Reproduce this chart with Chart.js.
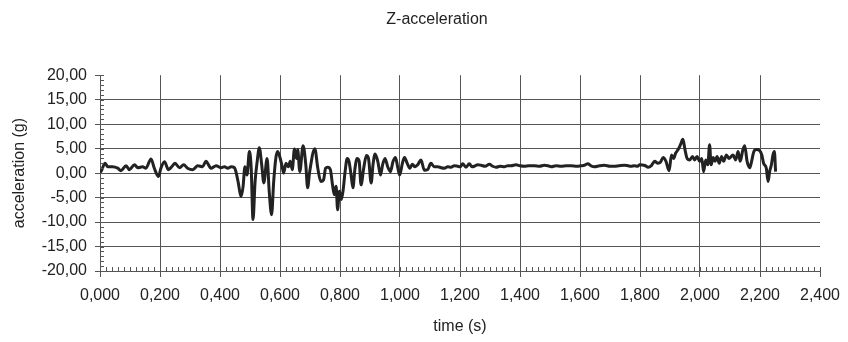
<!DOCTYPE html>
<html lang="en">
<head>
    <meta charset="UTF-8" />
    <title>Z-acceleration</title>
    <script src="https://cdn.jsdelivr.net/npm/chart.js"></script>
    <style>
        body { margin: 0; background: #fff; }
        .chart-box { width: 848px; height: 342px; }
    </style>
</head>
<body>
<div class="chart-box">
    <canvas id="accelChart"></canvas>
</div>

<script>
    // sample times (s)
    const times = [
        0.000, 0.003, 0.017, 0.026, 0.042, 0.059, 0.070, 0.087, 0.098, 0.115,
        0.126, 0.142, 0.153, 0.170, 0.181, 0.195, 0.203, 0.215, 0.228, 0.242,
        0.250, 0.265, 0.279, 0.292, 0.309, 0.326, 0.342, 0.353, 0.370, 0.387,
        0.404, 0.415, 0.426, 0.437, 0.448, 0.453, 0.461, 0.470, 0.477, 0.483,
        0.490, 0.498, 0.504, 0.510, 0.517, 0.524, 0.531, 0.539, 0.546, 0.557,
        0.564, 0.572, 0.579, 0.586, 0.592, 0.599, 0.606, 0.612, 0.620, 0.628,
        0.634, 0.641, 0.648, 0.655, 0.659, 0.666, 0.677, 0.686, 0.692, 0.699,
        0.716, 0.726, 0.736, 0.745, 0.752, 0.759, 0.768, 0.775, 0.781, 0.787,
        0.792, 0.798, 0.804, 0.810, 0.817, 0.824, 0.830, 0.837, 0.843, 0.850,
        0.857, 0.864, 0.870, 0.879, 0.888, 0.895, 0.904, 0.910, 0.917, 0.926,
        0.935, 0.942, 0.950, 0.959, 0.968, 0.977, 0.985, 0.992, 0.999, 1.008,
        1.015, 1.024, 1.033, 1.041, 1.050, 1.059, 1.070, 1.081, 1.092, 1.103,
        1.114, 1.126, 1.137, 1.148, 1.159, 1.170, 1.181, 1.192, 1.201, 1.209,
        1.220, 1.231, 1.240, 1.248, 1.259, 1.270, 1.284, 1.298, 1.309, 1.320,
        1.334, 1.348, 1.359, 1.370, 1.387, 1.400, 1.414, 1.430, 1.448, 1.465,
        1.481, 1.493, 1.504, 1.520, 1.537, 1.555, 1.570, 1.590, 1.603, 1.615,
        1.626, 1.637, 1.648, 1.665, 1.681, 1.700, 1.714, 1.730, 1.748, 1.760,
        1.770, 1.781, 1.792, 1.799, 1.816, 1.827, 1.838, 1.849, 1.860, 1.868,
        1.877, 1.886, 1.897, 1.905, 1.912, 1.919, 1.927, 1.935, 1.943, 1.950,
        1.957, 1.966, 1.975, 1.982, 1.990, 1.999, 2.006, 2.012, 2.019, 2.026,
        2.032, 2.037, 2.044, 2.050, 2.057, 2.064, 2.072, 2.079, 2.088, 2.097,
        2.110, 2.119, 2.127, 2.134, 2.143, 2.149, 2.157, 2.166, 2.172, 2.179,
        2.188, 2.199, 2.206, 2.212, 2.221, 2.227, 2.232, 2.238, 2.243, 2.248,
        2.252
    ];

    // Z acceleration (g)
    const accel = [
        0.2, 0.3, 2.0, 1.3, 1.3, 1.0, 0.5, 1.5, 0.7, 1.7,
        1.1, 1.3, 1.0, 2.9, 1.0, -0.7, 1.0, 2.3, 0.7, 1.5,
        2.0, 1.1, 1.7, 1.0, 0.7, 1.5, 1.3, 2.4, 1.0, 1.5,
        1.1, 1.3, 1.0, 1.3, 1.1, 0.3, -2.0, -4.8, -2.7, 1.3,
        -0.4, 4.4, 1.0, -9.5, -1.7, 2.4, 5.2, 1.7, -2.0, 3.0,
        -3.7, -8.5, -1.7, 3.0, 4.4, 3.4, 1.7, 0.0, 2.0, 1.3,
        2.4, 0.7, 4.9, 3.0, 4.8, 0.3, 5.6, 1.7, -3.0, 0.3,
        5.0, 1.0, -1.7, -1.4, 1.0, 1.2, 0.7, -2.4, -4.4, -2.7,
        -7.5, -3.7, -5.4, -3.7, 0.3, 3.0, 2.4, -0.4, -3.0, 1.0,
        3.0, 2.4, -2.4, 1.0, 3.6, 3.0, -2.0, 1.7, 3.9, 2.4,
        -0.4, 1.7, 3.0, 1.3, 0.3, 2.4, 3.2, 1.3, -0.4, 2.0,
        3.2, 2.0, 1.0, 1.8, 1.3, 1.7, 2.7, 0.6, 0.7, 2.0,
        1.3, 1.3, 1.1, 1.0, 1.3, 1.2, 1.5, 1.4, 1.3, 1.9,
        1.2, 1.9, 1.3, 1.4, 1.7, 1.6, 1.4, 1.8, 1.4, 1.2,
        1.4, 1.3, 1.5, 1.5, 1.7, 1.5, 1.4, 1.5, 1.5, 1.4,
        1.6, 1.5, 1.3, 1.5, 1.4, 1.5, 1.5, 1.4, 1.5, 1.6,
        1.9, 1.5, 1.3, 1.5, 1.6, 1.4, 1.4, 1.5, 1.6, 1.5,
        1.4, 1.5, 1.4, 1.7, 1.55, 1.2, 1.55, 2.4, 2.0, 2.2,
        3.2, 2.5, 0.5, 3.7, 3.0, 4.1, 4.8, 5.8, 6.9, 4.8,
        3.0, 2.7, 3.4, 2.7, 3.4, 2.4, 3.0, 0.3, 2.7, 1.7,
        5.8, 1.7, 3.2, 2.4, 3.4, 2.0, 3.4, 2.4, 3.7, 3.0,
        3.7, 2.7, 4.4, 2.4, 4.8, 5.6, 2.4, 1.1, 2.4, 4.3,
        4.8, 4.6, 3.7, 2.0, 1.0, -1.7, 0.3, 1.7, 3.7, 4.4,
        0.3
    ];

    const xTickLabels = ["0,000", "0,200", "0,400", "0,600", "0,800", "1,000", "1,200",
        "1,400", "1,600", "1,800", "2,000", "2,200", "2,400"];
    const yTickLabels = ["-20,00", "-15,00", "-10,00", "-5,00", "0,00", "5,00",
        "10,00", "15,00", "20,00"];

    const xMinorStep = 0.02;
    const yMinorStep = 1;

    const gridGrey = "#555";
    const textGrey = "#222";
    const fontFamily = "'Liberation Sans', Arial, sans-serif";

    // small inside ticks between the labelled ones
    const minorTicks = {
        id: "minorTicks",
        afterDraw(chart) {
            const { ctx, chartArea, scales } = chart;
            const xs = scales.x, ys = scales.y;
            ctx.save();
            ctx.strokeStyle = gridGrey;
            ctx.lineWidth = 1;
            ctx.beginPath();
            const nx = Math.round((xs.max - xs.min) / xMinorStep);
            for (let i = 0; i <= nx; i++) {
                const px = Math.round(xs.getPixelForValue(xs.min + i * xMinorStep)) + 0.5;
                ctx.moveTo(px, chartArea.bottom);
                ctx.lineTo(px, chartArea.bottom - 4);
            }
            const ny = Math.round((ys.max - ys.min) / yMinorStep);
            for (let i = 0; i <= ny; i++) {
                const py = Math.round(ys.getPixelForValue(ys.min + i * yMinorStep)) + 0.5;
                ctx.moveTo(chartArea.left, py);
                ctx.lineTo(chartArea.left + 4, py);
            }
            ctx.stroke();
            ctx.restore();
        },
    };

    const ctx = document.getElementById("accelChart").getContext("2d");
    new Chart(ctx, {
        type: "line",
        data: {
            datasets: [
                {
                    label: "Z-acceleration",
                    data: times.map((t, i) => ({ x: t, y: accel[i] })),
                    borderColor: "#222",
                    borderWidth: 3,
                    pointRadius: 0,
                    cubicInterpolationMode: "monotone",
                    fill: false,
                },
            ],
        },
        options: {
            responsive: true,
            maintainAspectRatio: false,
            animation: false,
            // uneven padding so the full-width title sits a bit right of centre, like the original
            layout: { padding: { left: 26, right: 0 } },
            plugins: {
                legend: { display: false },
                tooltip: { enabled: false },
                title: {
                    display: true,
                    text: "Z-acceleration",
                    color: textGrey,
                    font: { family: fontFamily, size: 16, weight: "normal" },
                    padding: { top: 10, bottom: 46 },
                },
            },
            scales: {
                x: {
                    type: "linear",
                    min: 0,
                    max: 2.4,
                    afterFit: (scale) => {
                        scale.height = 71;
                        scale.paddingRight = 28;
                    },
                    ticks: {
                        stepSize: 0.2,
                        maxRotation: 0,
                        autoSkip: false,
                        padding: 9,
                        color: textGrey,
                        font: { family: fontFamily, size: 16 },
                        callback: (v, i) => xTickLabels[i],
                    },
                    grid: {
                        color: (c) => (c.tick && c.tick.value > 2.39 ? "rgba(0,0,0,0)" : gridGrey),
                        tickColor: gridGrey,
                        tickLength: 6,
                    },
                    border: { display: true, color: gridGrey },
                    title: {
                        display: true,
                        text: "time (s)",
                        color: textGrey,
                        font: { family: fontFamily, size: 16 },
                        padding: { top: 0, bottom: 6 },
                    },
                },
                y: {
                    min: -20,
                    max: 20,
                    afterFit: (scale) => { scale.width = 74; },
                    ticks: {
                        stepSize: 5,
                        padding: 8,
                        color: textGrey,
                        font: { family: fontFamily, size: 16 },
                        callback: (v, i) => yTickLabels[i],
                    },
                    grid: {
                        color: (c) => (c.tick && c.tick.value >= 20 ? "rgba(0,0,0,0)" : gridGrey),
                        tickColor: gridGrey,
                        tickLength: 5,
                    },
                    border: { display: true, color: gridGrey },
                    title: {
                        display: true,
                        text: "acceleration (g)",
                        color: textGrey,
                        font: { family: fontFamily, size: 16 },
                        padding: { top: -15.6, bottom: 0 },
                    },
                },
            },
        },
        plugins: [minorTicks],
    });
</script>
</body>
</html>
